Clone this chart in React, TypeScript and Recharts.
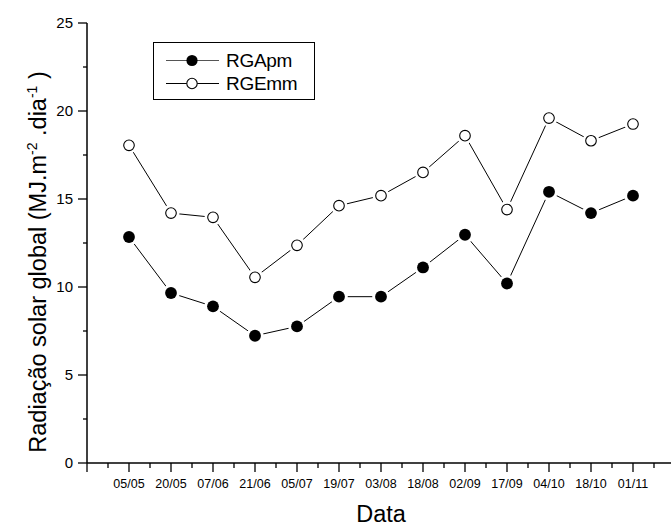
import React from 'react';
import { LineChart, Line, XAxis, YAxis, Legend } from 'recharts';

// Sampling dates (dd/mm) and daily global solar radiation, MJ m-2 day-1
const categories = ['05/05', '20/05', '07/06', '21/06', '05/07', '19/07', '03/08', '18/08', '02/09', '17/09', '04/10', '18/10', '01/11'];
const rgApm = [12.84, 9.66, 8.9, 7.23, 7.76, 9.45, 9.45, 11.11, 12.97, 10.2, 15.41, 14.2, 15.19];
const rgEmm = [18.05, 14.2, 13.96, 10.55, 12.37, 14.62, 15.19, 16.51, 18.6, 14.4, 19.6, 18.31, 19.26];
const yMajorTicks = [0, 5, 10, 15, 20, 25];
const seriesNames = ['RGApm', 'RGEmm'];

const FONT = '"Liberation Sans", Arial, Helvetica, sans-serif';

const data = categories.map((date, i) => ({
  pos: i + 1,
  date,
  rgApm: rgApm[i],
  rgEmm: rgEmm[i],
}));

// major ticks on whole positions, minor ticks half way between
const xTicks: number[] = [];
for (let i = 0; i <= categories.length + 1; i++) {
  xTicks.push(i);
  if (i <= categories.length) xTicks.push(i + 0.5);
}
const yTicks: number[] = [];
yMajorTicks.forEach((v, i) => {
  yTicks.push(v);
  if (i < yMajorTicks.length - 1) yTicks.push((v + yMajorTicks[i + 1]) / 2);
});

const XTick = (props: any) => {
  const { x, y, payload } = props;
  const v = payload.value as number;
  const major = Number.isInteger(v);
  const label = major && v >= 1 && v <= categories.length ? categories[v - 1] : '';
  return (
    <g>
      <line x1={x} x2={x} y1={y} y2={y + (major ? 9 : 5)} stroke="#000" strokeWidth={1.3} />
      {label && (
        <text x={x} y={y + 24.5} textAnchor="middle" fontSize={12.5} fontFamily={FONT} fill="#000">
          {label}
        </text>
      )}
    </g>
  );
};

const YTick = (props: any) => {
  const { x, y, payload } = props;
  const v = payload.value as number;
  const major = yMajorTicks.includes(v);
  return (
    <g>
      <line x1={x - (major ? 9 : 4)} x2={x} y1={y} y2={y} stroke="#000" strokeWidth={1.3} />
      {major && (
        <text x={x - 14} y={y + 5.3} textAnchor="end" fontSize={15} fontFamily={FONT} fill="#000">
          {v}
        </text>
      )}
    </g>
  );
};

const FilledDot = (props: any) => {
  const { cx, cy } = props;
  if (cx == null || cy == null) return null;
  return (
    <g>
      <circle cx={cx} cy={cy} r={8.8} fill="#fff" />
      <circle cx={cx} cy={cy} r={5.9} fill="#000" />
    </g>
  );
};

const OpenDot = (props: any) => {
  const { cx, cy } = props;
  if (cx == null || cy == null) return null;
  return (
    <g>
      <circle cx={cx} cy={cy} r={8.5} fill="#fff" />
      <circle cx={cx} cy={cy} r={5.3} fill="#fff" stroke="#000" strokeWidth={1.1} />
    </g>
  );
};

const XTitle = (props: any) => {
  const { viewBox } = props;
  const cx = viewBox.x + viewBox.width / 2;
  return (
    <text x={cx} y={viewBox.y + 59} textAnchor="middle" fontSize={23.5} fontFamily={FONT} fill="#000">
      Data
    </text>
  );
};

const YTitle = (props: any) => {
  const { viewBox } = props;
  const x = viewBox.x + 46;
  const y = viewBox.y + viewBox.height / 2 + 19;
  return (
    <text
      x={x}
      y={y}
      transform={`rotate(-90 ${x} ${y})`}
      textAnchor="middle"
      fontSize={23.5}
      fontFamily={FONT}
      fill="#000"
    >
      <tspan>Radiação solar global (MJ.m</tspan>
      <tspan fontSize={14} dy={-9}>-2</tspan>
      <tspan dy={9}> .dia</tspan>
      <tspan fontSize={14} dy={-9}>-1</tspan>
      <tspan dy={9}> )</tspan>
    </text>
  );
};

const LegendBox = () => (
  <svg width={162} height={58} style={{ display: 'block' }}>
    <rect x={0.5} y={0.5} width={161} height={57} fill="#fff" stroke="#000" strokeWidth={1} />
    {seriesNames.map((name, i) => {
      const ry = 18.5 + i * 23;
      return (
        <g key={name}>
          <line x1={13} x2={66} y1={ry} y2={ry} stroke={i === 0 ? '#555' : '#000'} strokeWidth={1} />
          {i === 0 ? (
            <circle cx={39} cy={ry} r={5.6} fill="#000" />
          ) : (
            <circle cx={39} cy={ry} r={5.2} fill="#fff" stroke="#000" strokeWidth={1.1} />
          )}
          <text x={73} y={ry + 6.8} fontSize={19} fontFamily={FONT} fill="#000" letterSpacing={-0.3}>
            {name}
          </text>
        </g>
      );
    })}
  </svg>
);

export default function App() {
  return (
    <div style={{ position: 'absolute', left: 0, top: 0, width: 671, height: 527, background: '#fff', overflow: 'hidden' }}>
      <LineChart
        width={671}
        height={527}
        data={data}
        margin={{ top: 23, right: -4, bottom: 0, left: 0 }}
        style={{ fontFamily: FONT }}
      >
        <XAxis
          type="number"
          dataKey="pos"
          domain={[0, categories.length + 1]}
          ticks={xTicks}
          interval={0}
          height={64}
          tickSize={0}
          tickMargin={0}
          tickLine={false}
          tick={<XTick />}
          axisLine={{ stroke: '#000', strokeWidth: 1.5 }}
          label={<XTitle />}
        />
        <YAxis
          type="number"
          domain={[0, 25]}
          ticks={yTicks}
          interval={0}
          width={87}
          tickSize={0}
          tickMargin={0}
          tickLine={false}
          tick={<YTick />}
          axisLine={{ stroke: '#000', strokeWidth: 1.5 }}
          label={<YTitle />}
        />
        <Legend
          layout="vertical"
          align="center"
          verticalAlign="middle"
          content={() => <LegendBox />}
          wrapperStyle={{ position: 'absolute', left: 153, top: 42, width: 162, height: 58 }}
        />
        <Line
          type="linear"
          dataKey="rgApm"
          name={seriesNames[0]}
          stroke="#000"
          strokeWidth={1}
          dot={<FilledDot />}
          activeDot={false}
          isAnimationActive={false}
        />
        <Line
          type="linear"
          dataKey="rgEmm"
          name={seriesNames[1]}
          stroke="#000"
          strokeWidth={1}
          dot={<OpenDot />}
          activeDot={false}
          isAnimationActive={false}
        />
      </LineChart>
    </div>
  );
}
